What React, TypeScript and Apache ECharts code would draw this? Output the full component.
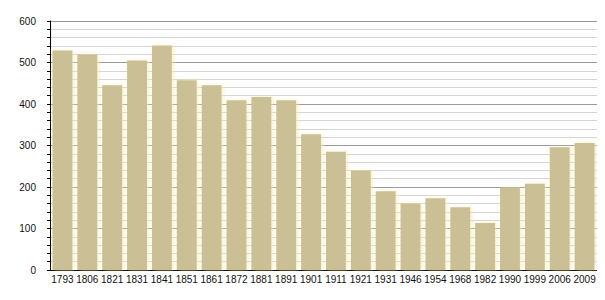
import React, { useEffect, useRef } from "react";
import * as echarts from "echarts";

const years = ["1793", "1806", "1821", "1831", "1841", "1851", "1861", "1872", "1881", "1891", "1901", "1911", "1921", "1931", "1946", "1954", "1968", "1982", "1990", "1999", "2006", "2009"];
const population = [529, 519, 445, 505, 541, 457, 445, 409, 417, 409, 327, 285, 240, 190, 160, 173, 151, 113, 198, 208, 296, 306];
const yTicks = { min: 0, max: 600, interval: 100 };

export default function App() {
  const ref = useRef<HTMLDivElement>(null);
  useEffect(() => {
    const chart = echarts.init(ref.current!, null, { renderer: "svg" });
    chart.setOption({
      animation: false,
      grid: { left: 50, right: 8, top: 21, bottom: 30 },
      xAxis: {
        type: "category",
        data: years,
        axisLine: { lineStyle: { color: "#000", width: 1 } },
        axisTick: { show: false },
        axisLabel: { color: "#111", fontFamily: "Liberation Sans, Arial, sans-serif", fontSize: 10, margin: 4, interval: 0 },
      },
      yAxis: {
        type: "value",
        min: yTicks.min,
        max: yTicks.max,
        interval: yTicks.interval,
        axisLine: { show: true, lineStyle: { color: "#000", width: 1 } },
        axisTick: { show: true, length: 3, lineStyle: { color: "#000" } },
        minorTick: { show: true, splitNumber: 5, length: 3, lineStyle: { color: "#000" } },
        axisLabel: { color: "#111", fontFamily: "Liberation Sans, Arial, sans-serif", fontSize: 10, margin: 14 },
        splitLine: { show: true, lineStyle: { color: "#9a9a9a", width: 1 } },
        minorSplitLine: { show: true, lineStyle: { color: "#d4d4d4", width: 1 } },
      },
      series: [
        {
          type: "bar",
          data: population,
          barCategoryGap: "20%",
          itemStyle: {
            color: "#cbc095",
            shadowBlur: 4,
            shadowOffsetX: 2,
            shadowColor: "rgba(245,235,180,0.7)",
          },
        },
      ],
    });
    return () => chart.dispose();
  }, []);
  return <div ref={ref} style={{ width: 605, height: 300, margin: -8 }} />;
}
